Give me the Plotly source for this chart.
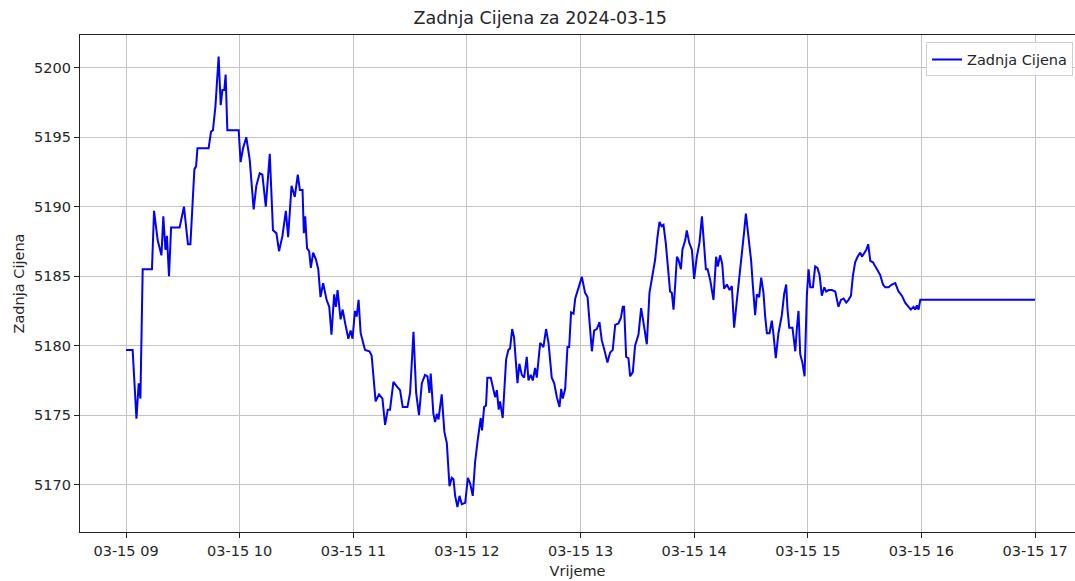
import pandas as pd
import plotly.graph_objects as go

# minutes after 09:00 on 2024-03-15
minutes = [
    0, 3.5, 5.5, 6.7, 7.6, 8.8, 13.7, 14.8, 16.7, 18.7, 19.7, 20.8, 21.6, 22.7, 23.8, 28.3,
    30.6, 32.7, 34.0, 36.1, 37.0, 37.7, 43.6, 44.9, 45.9, 47.2, 48.9, 50.0, 50.9, 51.9, 52.6,
    53.5, 59.5,
    60.5, 61.8, 63.5, 65.3, 67.4, 68.8, 70.6, 72.0, 73.8, 75.9, 77.6, 79.4, 80.8, 82.6, 84.4,
    85.6, 87.4, 89.1, 90.7, 91.8, 93.2, 93.9, 94.6, 95.6, 96.7, 97.6, 98.8, 100.3, 101.5,
    102.7, 104.1, 105.9, 107.3, 108.5, 109.9, 110.8, 111.7, 113.3, 114.4, 115.6, 117.4,
    118.6, 119.6, 120.9, 121.8, 122.8, 123.9, 126.2, 128.5, 129.7, 131.8, 133.6, 135.4,
    136.8, 138.2, 139.4, 141.2, 142.9, 144.7, 146.1, 148.6, 150.0, 151.8, 153.2, 154.7,
    156.2, 157.9, 159.2, 160.2,
    160.9, 162.3, 163.2, 164.1, 165.0, 166.7, 168.1, 169.4, 170.8, 172.0, 172.9, 173.8,
    175.0, 176.1, 177.3, 179.1, 180.5, 181.7, 183.1, 184.3, 185.6, 186.6, 187.3, 188.0,
    189.1, 190.1, 190.8, 192.6, 194.0, 194.9, 195.8, 196.8, 197.5, 198.9, 200.7, 201.9,
    202.8, 203.9, 204.9, 206.7, 207.7, 209.0, 210.2, 211.6, 212.5, 213.7, 214.8, 216.0,
    216.9, 218.7, 220.4, 221.8, 223.1, 224.8, 226.1, 227.5, 228.9, 229.8, 230.6, 231.9,
    233.1, 234.0, 235.0, 236.3, 237.2, 238.9, 240.7, 242.4, 243.7, 244.7, 246.0, 247.2,
    248.6, 250.0,
    251.2, 252.6, 254.2, 255.6, 257.0, 258.3, 260.0, 261.3, 262.3, 263.0, 264.1, 265.3,
    266.2, 267.6, 268.8, 270.6, 272.0, 273.2, 275.0, 276.4, 277.6, 279.4, 280.6, 281.7,
    282.8, 283.8, 285.0, 286.1, 287.3, 288.2, 289.1, 290.0, 290.9, 291.7, 293.0, 293.8,
    295.3, 296.1, 297.4, 298.8, 300.0, 301.4, 302.8, 304.1, 304.9, 306.2, 307.1, 308.5,
    310.2, 311.6, 312.5, 313.7, 314.8, 315.8, 317.3, 318.7, 319.9, 321.1, 322.5, 324.0,
    325.2, 326.4, 327.3, 328.7, 330.1, 331.0, 332.2, 333.1, 334.3, 335.4, 336.6, 337.5,
    338.4,
    339.8, 341.0, 341.9, 343.1, 344.5, 346.3, 347.5, 348.6, 349.3, 350.2, 351.9, 353.4,
    354.2, 355.1, 356.0, 357.2, 358.3, 359.5, 360.4, 361.3, 362.7, 363.9, 365.1, 366.2,
    367.4, 368.7, 369.7, 371.0, 372.7, 374.5, 376.2, 377.5, 378.9, 380.3, 381.5, 382.8,
    383.8, 385.0, 386.3, 387.7, 388.6, 389.8, 390.9, 391.9, 393.0, 394.4, 395.6, 396.8,
    398.2, 399.7, 400.9, 402.6, 404.4, 406.2, 407.9, 409.7, 411.4, 413.2, 414.4, 415.8,
    416.7, 417.6, 418.5, 419.4, 480.0,
]

prices = [
    5179.7, 5179.7, 5174.75, 5177.3, 5176.2, 5185.5, 5185.5, 5189.7, 5187.6, 5186.5, 5189.3,
    5186.9, 5187.9, 5185.0, 5188.5, 5188.5, 5190.0, 5187.3, 5187.3, 5192.7, 5192.9, 5194.2,
    5194.2, 5195.4, 5195.5, 5197.2, 5200.8, 5197.3, 5198.4, 5198.4, 5199.5, 5195.5, 5195.5,
    5193.2, 5194.2, 5195.0, 5193.4, 5189.8, 5191.5, 5192.4, 5192.3, 5190.0, 5193.8, 5188.3,
    5188.1, 5186.8, 5187.9, 5189.7, 5187.8, 5191.5, 5190.7, 5192.3, 5191.2, 5191.2, 5188.1,
    5189.3, 5187.0, 5186.8, 5185.6, 5186.7, 5186.2, 5185.5, 5183.5, 5184.5, 5183.3, 5182.8,
    5180.8, 5183.7, 5182.8, 5184.0, 5181.9, 5182.6, 5181.7, 5180.5, 5181.1, 5180.5, 5182.5,
    5182.1, 5183.3, 5180.9, 5179.7, 5179.6, 5179.3, 5176.0, 5176.5, 5176.2, 5174.3, 5175.4,
    5175.4, 5177.4, 5177.1, 5176.8, 5175.6, 5175.6, 5176.6, 5181.0, 5176.6, 5175.0, 5177.3,
    5177.9, 5177.8, 5176.6,
    5178.0, 5175.1, 5174.5, 5175.1, 5174.7, 5176.5, 5173.8, 5173.0, 5169.9, 5170.5, 5170.4,
    5169.2, 5168.4, 5169.2, 5168.6, 5168.7, 5170.5, 5170.1, 5169.2, 5171.6, 5173.1, 5174.2,
    5174.8, 5173.9, 5175.6, 5175.7, 5177.7, 5177.7, 5176.8, 5176.3, 5176.8, 5175.4, 5176.0,
    5174.8, 5179.0, 5179.7, 5179.8, 5181.2, 5180.6, 5177.3, 5178.7, 5177.9, 5177.7, 5179.2,
    5177.5, 5177.9, 5177.5, 5178.4, 5177.7, 5180.2, 5179.9, 5181.2, 5180.2, 5177.7, 5177.3,
    5176.3, 5175.6, 5176.9, 5176.2, 5176.9, 5179.9, 5179.9, 5182.4, 5182.3, 5183.4, 5184.2,
    5184.95, 5183.8, 5183.5, 5181.8, 5179.6, 5181.1, 5181.2, 5181.7,
    5180.4, 5179.7, 5178.8, 5179.5, 5179.7, 5181.5, 5181.6, 5182.0, 5182.8, 5182.8, 5179.2,
    5179.1, 5177.8, 5178.1, 5180.0, 5180.8, 5182.7, 5181.7, 5180.1, 5183.8, 5184.7, 5186.2,
    5187.8, 5188.9, 5188.6, 5188.7, 5187.4, 5185.9, 5183.9, 5183.8, 5182.6, 5184.4, 5186.4,
    5186.2, 5185.5, 5186.9, 5187.6, 5188.3, 5187.4, 5186.9, 5184.8, 5186.4, 5187.4, 5189.3,
    5187.8, 5185.5, 5185.5, 5184.7, 5183.3, 5186.4, 5185.7, 5186.5, 5185.9, 5184.1, 5184.4,
    5184.0, 5184.3, 5181.3, 5183.2, 5185.0, 5186.7, 5188.2, 5189.5, 5187.8, 5186.1, 5184.3,
    5182.2, 5183.7, 5183.5, 5184.9, 5183.8, 5182.1, 5180.9,
    5180.9, 5181.8, 5180.8, 5179.1, 5180.9, 5182.2, 5183.7, 5184.4, 5182.6, 5181.3, 5181.3,
    5179.6, 5181.2, 5182.5, 5179.4, 5178.75, 5177.8, 5183.6, 5185.5, 5184.2, 5184.2, 5185.7,
    5185.6, 5185.1, 5183.6, 5184.2, 5183.9, 5184.0, 5184.0, 5183.9, 5182.8, 5183.3, 5183.4,
    5183.1, 5183.3, 5183.6, 5185.0, 5186.0, 5186.4, 5186.7, 5186.4, 5186.7, 5186.9, 5187.3,
    5186.1, 5186.0, 5185.7, 5185.5, 5185.1, 5184.4, 5184.2, 5184.2, 5184.4, 5184.5, 5183.9,
    5183.6, 5183.1, 5182.8, 5182.6, 5182.8, 5182.6, 5182.9, 5182.6, 5183.3, 5183.3,
]

series_name = "Zadnja Cijena"
title_text = "Zadnja Cijena za 2024-03-15"
x_label = "Vrijeme"
y_label = "Zadnja Cijena"

base = pd.Timestamp("2024-03-15 09:00:00")
times = base + pd.to_timedelta(minutes, unit="min")

FONT = "DejaVu Sans"
TXT = "#262626"

fig = go.Figure()
fig.add_trace(go.Scatter(
    x=times, y=prices, mode="lines", name=series_name,
    line=dict(color="#0000ff", width=2),
))

fig.update_layout(
    width=1075, height=581,
    margin=dict(l=80, r=0, t=35, b=49),
    paper_bgcolor="white", plot_bgcolor="white",
    font=dict(family=FONT, size=14.5, color=TXT),
    title=dict(text=title_text, x=0.5025, xanchor="center",
               y=1 - 18 / 581, yanchor="middle", yref="container",
               font=dict(family=FONT, size=17.5, color=TXT)),
    showlegend=True,
    legend=dict(x=0.998, y=0.985, xanchor="right", yanchor="top",
                bgcolor="rgba(255,255,255,0.85)", bordercolor="#d0d0d0",
                borderwidth=1, font=dict(family=FONT, size=14.5, color=TXT)),
)

fig.update_xaxes(
    type="date",
    range=["2024-03-15 08:35:42", "2024-03-15 17:21:06"],
    tick0="2024-03-15 09:00:00", dtick=3600000, tickformat="%m-%d %H",
    showgrid=True, gridcolor="#c4c4c4", gridwidth=1,
    ticks="outside", ticklen=5, tickcolor="#222", tickwidth=1,
    showline=True, linecolor="#222", linewidth=1.2, mirror=True,
    zeroline=False,
    title=dict(text=x_label, standoff=8, font=dict(family=FONT, size=14.5, color=TXT)),
)
fig.update_yaxes(
    range=[5166.6, 5202.35],
    tick0=5170, dtick=5,
    showgrid=True, gridcolor="#c4c4c4", gridwidth=1,
    ticks="outside", ticklen=5, tickcolor="#222", tickwidth=1,
    showline=True, linecolor="#222", linewidth=1.2,
    zeroline=False,
    title=dict(text=y_label, standoff=6, font=dict(family=FONT, size=14.5, color=TXT)),
)

fig.write_html(
    "out.html",
    config={"displayModeBar": False},
    post_script="document.body.style.margin='0';document.body.style.overflow='hidden';",
)
